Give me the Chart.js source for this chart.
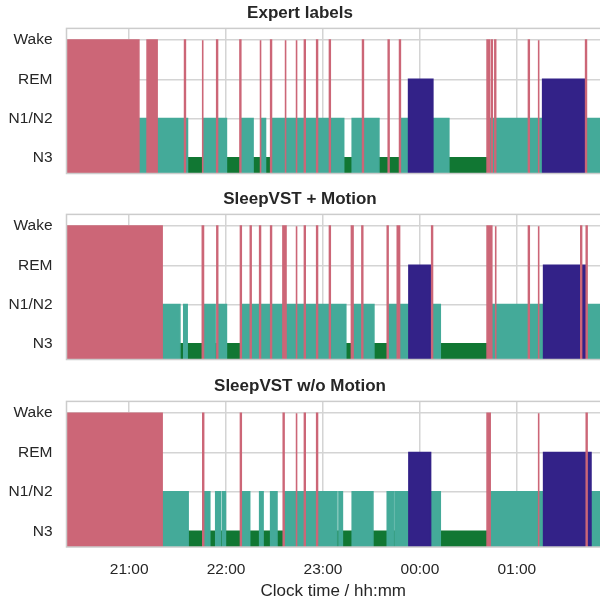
<!DOCTYPE html>
<html>
<head>
<meta charset="utf-8">
<script src="https://cdn.jsdelivr.net/npm/chart.js@4.4.1/dist/chart.umd.min.js"></script>
<style>
  body { margin: 0; background: #fff; }
  .panel { position: absolute; left: 0; width: 600px; }
</style>
</head>
<body>
<div class="panel" style="top:0;height:176px"><canvas id="c1"></canvas></div>
<div class="panel" style="top:186px;height:176px"><canvas id="c2"></canvas></div>
<div class="panel" style="top:373px;height:230px"><canvas id="c3"></canvas></div>
<script>
// time in minutes from 21:00, each value is the start of a stage run
var stageNames = ['N3', 'N1/N2', 'REM', 'Wake'];
var hourTicks = [0, 60, 120, 180, 240];
var hourLabels = ['21:00', '22:00', '23:00', '00:00', '01:00'];
var recordEnd = 300;

var expertStart = [-40, 6.0, 11.1, 17.3, 34.3, 34.8, 36.1, 45.2, 45.7, 54.2, 54.7, 60.2, 68.6, 69.1,
  76.7, 81.0, 81.5, 84.4, 87.6, 88.1, 96.5, 97.0, 103.3, 103.8, 108.5, 109.0, 116.1, 116.6,
  124.0, 124.5, 132.8, 138.1, 144.5, 145.0, 154.6, 160.4, 160.9, 167.4, 167.9, 173.0, 188.0,
  197.9, 221.6, 223.0, 224.3, 224.8, 226.4, 226.9, 247.2, 247.7, 253.2, 253.7, 256.0, 282.6, 283.1];
var expertStage = ['Wake', 'N1/N2', 'Wake', 'N1/N2', 'Wake', 'N1/N2', 'N3', 'Wake', 'N1/N2', 'Wake', 'N1/N2', 'N3', 'Wake', 'N1/N2',
  'N3', 'Wake', 'N1/N2', 'N3', 'Wake', 'N1/N2', 'Wake', 'N1/N2', 'Wake', 'N1/N2', 'Wake', 'N1/N2', 'Wake', 'N1/N2',
  'Wake', 'N1/N2', 'N3', 'N1/N2', 'Wake', 'N1/N2', 'N3', 'Wake', 'N3', 'Wake', 'N1/N2', 'REM', 'N1/N2',
  'N3', 'Wake', 'N1/N2', 'Wake', 'N1/N2', 'Wake', 'N1/N2', 'Wake', 'N1/N2', 'Wake', 'N1/N2', 'REM', 'Wake', 'N1/N2'];

var motionStart = [-40, 20.4, 31.4, 33.8, 35.9, 45.3, 46.0, 53.2, 54.3, 54.8, 60.2, 68.9, 69.4, 75.0, 75.5,
  80.8, 81.3, 87.6, 88.1, 95.2, 95.7, 96.6, 97.1, 103.3, 103.8, 108.5, 109.0, 116.1, 116.6, 124.0, 124.5,
  134.1, 137.6, 138.6, 144.1, 144.6, 151.5, 159.8, 160.3, 166.0, 167.4, 173.2, 186.6, 187.3, 187.8,
  192.6, 221.6, 224.5, 226.6, 227.1, 247.2, 247.7, 253.2, 253.7, 256.6, 279.6, 280.1, 282.4, 283.0, 283.5];
var motionStage = ['Wake', 'N1/N2', 'N3', 'N1/N2', 'N3', 'Wake', 'N1/N2', 'N3', 'Wake', 'N1/N2', 'N3', 'Wake', 'N1/N2', 'Wake', 'N1/N2',
  'Wake', 'N1/N2', 'Wake', 'N1/N2', 'Wake', 'N1/N2', 'Wake', 'N1/N2', 'Wake', 'N1/N2', 'Wake', 'N1/N2', 'Wake', 'N1/N2', 'Wake', 'N1/N2',
  'N3', 'Wake', 'N1/N2', 'Wake', 'N1/N2', 'N3', 'Wake', 'N1/N2', 'Wake', 'N1/N2', 'REM', 'N1/N2', 'Wake', 'N1/N2',
  'N3', 'Wake', 'N1/N2', 'Wake', 'N1/N2', 'Wake', 'N1/N2', 'Wake', 'N1/N2', 'REM', 'Wake', 'REM', 'N1/N2', 'Wake', 'N1/N2'];

var noMotionStart = [-40, 20.4, 36.5, 45.6, 46.1, 49.9, 53.6, 56.5, 57.8, 59.6, 68.9, 69.4, 74.6, 80.8,
  82.9, 87.6, 91.5, 95.4, 95.9, 103.3, 103.8, 108.5, 109.0, 116.1, 116.6, 128.6, 129.9, 132.0, 138.1,
  150.9, 159.8, 163.9, 165.0, 173.2, 186.6, 192.6, 221.6, 223.5, 253.2, 253.7, 256.6, 283.0, 283.5, 285.9];
var noMotionStage = ['Wake', 'N1/N2', 'N3', 'Wake', 'N1/N2', 'N3', 'N1/N2', 'N3', 'N1/N2', 'N3', 'Wake', 'N1/N2', 'N3', 'N1/N2',
  'N3', 'N1/N2', 'N3', 'Wake', 'N1/N2', 'Wake', 'N1/N2', 'Wake', 'N1/N2', 'Wake', 'N1/N2', 'N3', 'N1/N2', 'N3', 'N1/N2',
  'N3', 'N1/N2', 'N3', 'N1/N2', 'REM', 'N1/N2', 'N3', 'Wake', 'N1/N2', 'Wake', 'N1/N2', 'REM', 'Wake', 'REM', 'N1/N2'];

var stageColors = { 'Wake': '#CC6677', 'REM': '#332288', 'N1/N2': '#44AA99', 'N3': '#117733' };
var drawOrder = ['Wake', 'REM', 'N1/N2', 'N3'];
var yMin = -0.4, yMax = 3.3, xMin = -38.8, xMax = 291.5;

Chart.defaults.font.family = "'Liberation Sans', Arial, sans-serif";
Chart.defaults.color = '#262626';

function buildDatasets(starts, stages) {
  var pts = {};
  drawOrder.forEach(function (s) { pts[s] = []; });
  for (var i = 0; i < starts.length; i++) {
    var s = starts[i];
    var e = i + 1 < starts.length ? starts[i + 1] : recordEnd;
    var lv = stageNames.indexOf(stages[i]);
    pts[stages[i]].push({x: s, y: yMin}, {x: s, y: lv}, {x: e, y: lv}, {x: e, y: yMin}, {x: e, y: null});
  }
  return drawOrder.map(function (s) {
    return {
      label: s,
      data: pts[s],
      borderColor: stageColors[s],
      backgroundColor: stageColors[s],
      borderWidth: 1.6,
      fill: 'start',
      pointRadius: 0,
      tension: 0,
      spanGaps: false
    };
  });
}

var framePlugin = {
  id: 'frame',
  afterDatasetsDraw: function (chart) {
    var a = chart.chartArea, ctx = chart.ctx;
    ctx.save();
    ctx.strokeStyle = '#cccccc';
    ctx.lineWidth = 1.5;
    ctx.strokeRect(a.left, a.top, a.right - a.left + 5, a.bottom - a.top);
    ctx.restore();
  }
};

function makePanel(id, title, starts, stages, bottom) {
  new Chart(document.getElementById(id), {
    type: 'line',
    data: { datasets: buildDatasets(starts, stages) },
    plugins: [framePlugin],
    options: {
      responsive: true,
      maintainAspectRatio: false,
      animation: false,
      layout: { padding: 0 },
      plugins: {
        legend: { display: false },
        tooltip: { enabled: false },
        title: {
          display: true,
          text: title,
          font: { size: 17, weight: 'bold' },
          color: '#262626',
          padding: { top: 3, bottom: 5 }
        }
      },
      scales: {
        x: {
          type: 'linear',
          min: xMin,
          max: xMax,
          afterBuildTicks: function (scale) {
            scale.ticks = hourTicks.map(function (v) { return { value: v }; });
          },
          afterFit: function (scale) { scale.height = bottom ? 56 : 2.5; },
          grid: { color: '#d4d4d4', lineWidth: 1.5, drawTicks: false },
          border: { display: false },
          ticks: {
            display: bottom,
            padding: 13,
            font: { size: 15.5 },
            callback: function (v) { return hourLabels[hourTicks.indexOf(v)]; }
          },
          title: {
            display: bottom,
            text: 'Clock time / hh:mm',
            font: { size: 17 },
            padding: { top: 0, bottom: 1 }
          }
        },
        y: {
          min: yMin,
          max: yMax,
          afterBuildTicks: function (scale) {
            scale.ticks = [0, 1, 2, 3].map(function (v) { return { value: v }; });
          },
          afterFit: function (scale) {
            scale.width = 66.5;
            scale.paddingTop = 0;
            scale.paddingBottom = 0;
          },
          grid: { color: '#d4d4d4', lineWidth: 1.5, drawTicks: false },
          border: { display: false },
          ticks: {
            padding: 14,
            font: { size: 15.5 },
            callback: function (v) { return stageNames[v]; }
          }
        }
      }
    }
  });
}

makePanel('c1', 'Expert labels', expertStart, expertStage, false);
makePanel('c2', 'SleepVST + Motion', motionStart, motionStage, false);
makePanel('c3', 'SleepVST w/o Motion', noMotionStart, noMotionStage, true);
</script>
</body>
</html>
